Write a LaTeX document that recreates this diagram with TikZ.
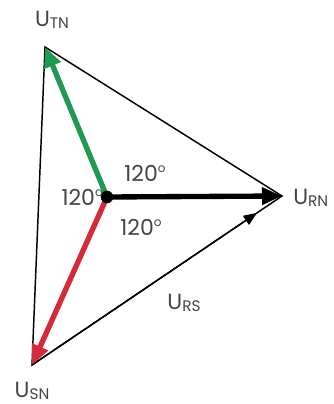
\documentclass[tikz,border=0pt]{standalone}
\usepackage{fontspec}
\setmainfont{Poppins}
\usetikzlibrary{arrows.meta,calc}

\newcommand{\volt}[1]{U\raisebox{-0.2ex}{\fontsize{11.5pt}{11.5pt}\selectfont #1}}
\newcommand{\ang}{120\raisebox{0.75ex}{\fontsize{9pt}{9pt}\selectfont o}}

\begin{document}
\begin{tikzpicture}[x=0.75pt, y=-0.75pt]
    \definecolor{textColour}{HTML}{444444}
    \definecolor{greenColour}{HTML}{1E9A55}
    \definecolor{redColour}{HTML}{D42A3A}

    \tikzset{
        label/.style={text=textColour, font=\fontsize{16.5pt}{16.5pt}\selectfont, inner sep=0pt},
        phasor/.style={line width=4pt, -{Triangle[length=15pt, width=12.5pt]}},
        side/.style={line width=1.1pt, line join=miter}
    }

    \useasboundingbox (0,0) rectangle (333,404);

    % Define coordinates for the star point and the tips
    \coordinate (N) at (107,197);
    \coordinate (R) at (282,196);
    \coordinate (T) at (45,47);
    \coordinate (S) at (32,365);

    % Draw triangle of line voltages
    \draw[side] (T) -- (R) -- (S) -- cycle;
    \draw[side, -{Triangle[length=10pt, width=8pt]}] (S) -- ($(S)!0.9!(R)$);

    % Draw phase voltages
    \draw[phasor, greenColour] (N) -- (T);
    \draw[phasor, redColour] (N) -- (S);
    \draw[phasor, black] (N) -- (R);
    \filldraw[black] (N) circle (4.5pt);

    % Labels
    \node[label] (uTN) at (52,20) {\volt{TN}};
    \node[label, anchor=west] (uRN) at (293,198) {\volt{RN}};
    \node[label] (uSN) at (32,391) {\volt{SN}};
    \node[label] (uRS) at (184,303) {\volt{RS}};
    \node[label] (a1) at (145,173) {\ang};
    \node[label, anchor=east] (a2) at (103,197) {\ang};
    \node[label] (a3) at (141,227) {\ang};

\end{tikzpicture}
\end{document}
